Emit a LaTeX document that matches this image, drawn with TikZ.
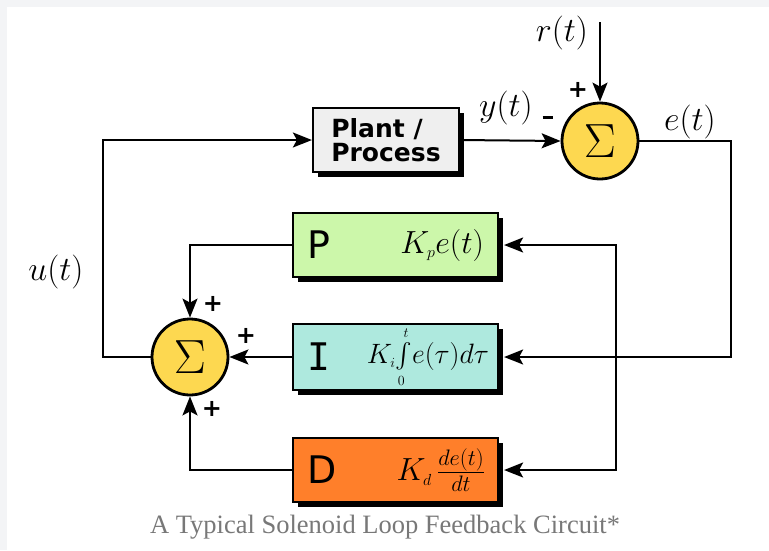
\RequirePackage{fix-cm}
\documentclass[tikz,border=0pt]{standalone}
\usepackage{exscale}
\usepackage{fontspec}
\usepackage{tikz}
\usetikzlibrary{arrows.meta,positioning,calc,shadows}
\newfontfamily\blocksans{DejaVu Sans}
\newfontfamily\blockmono{DejaVu Sans Mono}
\newfontfamily\capserif{Liberation Serif}
\definecolor{pagegrey}{RGB}{243,244,246}
\definecolor{plantfill}{RGB}{239,239,239}
\definecolor{pfill}{RGB}{204,247,170}
\definecolor{ifill}{RGB}{174,233,222}
\definecolor{dfill}{RGB}{255,127,42}
\definecolor{sumfill}{RGB}{253,216,80}
\definecolor{capgrey}{RGB}{120,120,120}

\begin{document}
\begin{tikzpicture}[x=1pt, y=-1pt,
  wire/.style={line width=2pt},
  arr/.style={wire, -{Stealth[length=19pt,width=15pt,inset=4pt]}},
  dblarr/.style={wire, {Stealth[length=19pt,width=15pt,inset=4pt]}-{Stealth[length=19pt,width=15pt,inset=4pt]}},
  blk/.style={draw, line width=2.2pt, inner sep=0pt,
    general shadow={fill=black, shadow xshift=5pt, shadow yshift=-5pt}},
  plantbox/.style={blk, fill=plantfill, minimum width=146pt, minimum height=64pt, align=left,
    font=\blocksans\bfseries\fontsize{25}{24}\selectfont},
  gainbox/.style={blk, minimum width=205pt, minimum height=64pt},
  sumnode/.style={circle, draw, line width=2.8pt, fill=sumfill, minimum size=76pt, inner sep=0pt,
    font=\fontsize{48}{48}\selectfont},
  letter/.style={inner sep=0pt, font=\blocksans\fontsize{38}{38}\selectfont},
  gain/.style={inner sep=0pt, font=\fontsize{32}{34}\selectfont},
  sig/.style={inner sep=0pt, font=\fontsize{34}{36}\selectfont},
  sgn/.style={inner sep=0pt, font=\blocksans\bfseries\fontsize{24}{24}\selectfont},
  caption/.style={inner sep=0pt, text=capgrey, font=\capserif\fontsize{26.5}{28}\selectfont}
]
\fill[pagegrey] (0,0) rectangle (769,550);
\fill[white] (7,7) rectangle (769,550);
\useasboundingbox (0,0) rectangle (769,550);

% blocks
\node[plantbox] (plant) at (386,140) {Plant /\\Process};
\node[sumnode] (sumtop) at (600,141) {$\Sigma$};
\node[gainbox, fill=pfill] (P) at (395.5,245) {};
\node[gainbox, fill=ifill, minimum height=66pt] (I) at (395.5,357) {};
\node[gainbox, fill=dfill] (D) at (395.5,470) {};
\node[sumnode] (sumL) at (190,357) {$\Sigma$};

% block texts
\node[letter, right=15pt of P.west] (Pname) {P};
\node[letter, font=\blockmono\fontsize{38}{38}\selectfont, right=15pt of I.west] (Iname) {I};
\node[letter, right=15pt of D.west] (Dname) {D};
\node[gain, left=15pt of P.east] (Pgain) {$K_{\scriptscriptstyle p}e(t)$};
\node[gain, font=\fontsize{28}{30}\selectfont, left=10pt of I.east] (Igain) {$K_{\scriptscriptstyle i}\!\int\limits_{\scriptscriptstyle 0}^{\scriptscriptstyle t}\! e(\tau)d\tau$};
\node[gain, left=14pt of D.east] (Dgain) {$K_{\scriptscriptstyle d}\,\frac{de(t)}{dt}$};

% signals and signs
\node[sig] (rlab) at (562,33) {$r(t)$};
\node[sig] (ylab) at (506,108) {$y(t)$};
\node[sig] (elab) at (690,122) {$e(t)$};
\node[sig] (ulab) at (56,272) {$u(t)$};
\node[sgn] (plusr) at (578,90) {+};
\node[sgn] (minusy) at (548,121) {\rule[0.3em]{0.45em}{0.12em}};
\node[sgn] (plusp) at (213,304) {+};
\node[sgn] (plusi) at (246,336) {+};
\node[sgn] (plusd) at (212,409) {+};

\coordinate (rin) at (600,22);
\coordinate (ecorner) at (731,357);
\coordinate (tapD) at (616,470);
\coordinate (ucorner) at (103,357);

% connectors
\draw[arr] (rin) -- (sumtop.north);
\draw[arr] (plant.east) -- (sumtop.west);
\draw[arr] (sumtop.east) -| (ecorner) -- ([xshift=5pt]I.east);
\draw[dblarr] ([xshift=5pt]P.east) -| (tapD) -- ([xshift=5pt]D.east);
\draw[arr] (P.west) -| (sumL.north);
\draw[arr] (I.west) -- (sumL.east);
\draw[arr] (D.west) -| (sumL.south);
\draw[arr] (sumL.west) -- (ucorner) |- (plant.west);

\node[caption] (cap) at (385,527) {A Typical Solenoid Loop Feedback Circuit*};
\end{tikzpicture}
\end{document}
